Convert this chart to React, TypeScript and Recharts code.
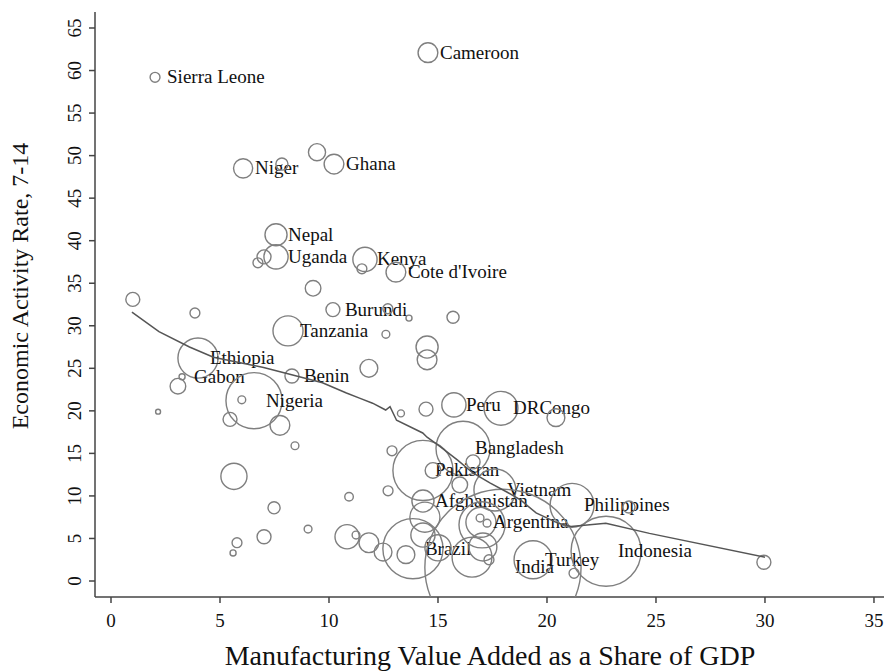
import { ScatterChart, Scatter, XAxis, YAxis, ZAxis, Label } from "recharts";

const names = [
  "Sierra Leone", "Cameroon", "Niger", "Ghana", "Nepal", "Uganda", "Kenya",
  "Cote d'Ivoire", "Burundi", "Tanzania", "Ethiopia", "Gabon", "Benin",
  "Nigeria", "Peru", "DRCongo", "Bangladesh", "Pakistan", "Vietnam",
  "Afghanistan", "Argentina", "Philippines", "Brazil", "India", "Turkey",
  "Indonesia",
];

// manufacturing value added, % of GDP (labelled countries first, then the rest)
const mva = [
  2.02, 14.54, 6.06, 10.23, 7.57, 7.57, 11.65, 13.07, 10.18, 8.12, 3.99, 3.26,
  8.3, 6.56, 15.73, 17.89, 16.15, 14.31, 17.61, 14.31, 16.97, 21.15, 13.85,
  17.98, 19.36, 22.71,
  7.84, 9.45, 7.02, 6.74, 11.51, 9.27, 1.0, 3.85, 12.7, 13.67, 15.69, 12.61,
  14.5, 14.5, 11.83, 3.07, 2.16, 6.0, 5.46, 7.75, 8.44, 13.3, 14.45, 20.41,
  12.89, 16.61, 14.77, 16.0, 12.71, 10.92, 14.4, 14.31, 10.83, 11.24, 11.83,
  12.48, 13.53, 15.0, 16.56, 17.06, 17.34, 16.93, 17.25, 17.02, 21.24, 23.76,
  29.95, 5.64, 7.48, 9.04, 7.02, 5.78, 5.6,
];

// economic activity rate, children 7-14
const activity = [
  59.2, 62.1, 48.5, 49.0, 40.7, 38.1, 37.8, 36.3, 31.9, 29.4, 26.2, 24.0,
  24.1, 21.2, 20.7, 20.3, 15.6, 13.0, 10.7, 9.4, 6.9, 8.9, 3.8, 1.6, 2.5, 3.5,
  49.0, 50.4, 38.1, 37.4, 36.7, 34.4, 33.1, 31.5, 32.0, 30.9, 31.0, 29.0,
  27.5, 26.0, 25.0, 22.9, 19.9, 21.3, 19.0, 18.3, 15.9, 19.7, 20.2, 19.2,
  15.3, 14.0, 13.0, 11.3, 10.6, 9.9, 7.5, 5.4, 5.2, 5.4, 4.5,
  3.4, 3.1, 3.9, 2.8, 4.0, 2.5, 7.4, 6.8, 6.6, 0.9, 8.7,
  2.2, 12.3, 8.6, 6.1, 5.2, 4.5, 3.3,
];

// population weight (millions)
const popWeight = [
  4, 16, 15, 16, 20, 24, 24, 16, 8, 37, 66, 1.5, 8, 129, 24, 47, 120, 148, 72,
  20, 37, 79, 148, 1000, 59, 201,
  6, 12, 8, 4, 4, 10, 8, 4, 4, 1.5, 6, 2.5, 20, 16, 13, 10, 1, 2.5, 8, 16,
  2.5, 2, 8, 13, 4, 8, 10, 10, 4, 3, 37, 24, 24, 2.5, 16, 13, 13, 28, 65, 32,
  4, 2.5, 2.5, 87, 4, 6, 8, 28, 6, 2.5, 8, 4, 1.5,
];

// smoothed fit
const fitX = [
  0.96, 2.2, 3.6, 4.7, 7.0, 8.2, 9.7, 10.8, 11.4, 12.0, 12.6, 12.8, 13.1,
  14.3, 14.5, 15.1, 15.9, 16.6, 17.4, 18.2, 18.8, 19.5, 20.5, 21.1, 22.7,
  24.7, 30.0,
];
const fitY = [
  31.6, 29.3, 27.5, 26.3, 25.1, 24.3, 23.3, 22.1, 21.5, 20.9, 20.1, 20.5,
  18.9, 17.4, 16.9, 15.8, 14.2, 12.7, 11.5, 10.4, 9.5, 8.0, 6.8, 6.4, 6.8,
  5.6, 2.8,
];

const xTicks = [0, 5, 10, 15, 20, 25, 30, 35];
const yTicks = [0, 5, 10, 15, 20, 25, 30, 35, 40, 45, 50, 55, 60, 65];

const points = mva.map((x, i) => ({
  x,
  y: activity[i],
  z: popWeight[i],
  name: names[i] || "",
}));
const fit = fitX.map((x, i) => ({ x, y: fitY[i] }));

const FONT = "'Liberation Serif', 'Times New Roman', serif";

const Bubble = (props: any) => {
  const { cx, cy, width, payload } = props;
  const r = width / 2;
  return (
    <g>
      <circle cx={cx} cy={cy} r={r} fill="none" stroke="#7f7f7f" strokeWidth={1.4} />
      {payload.name && (
        <text x={cx + 12} y={cy + 6} fontFamily={FONT} fontSize={19} fill="#111">
          {payload.name}
        </text>
      )}
    </g>
  );
};

const XTick = ({ x, y, payload }: any) => (
  <text x={x} y={y + 22} textAnchor="middle" fontFamily={FONT} fontSize={19} fill="#111">
    {payload.value}
  </text>
);

const YTick = ({ x, y, payload }: any) => (
  <text
    x={x - 6}
    y={y}
    textAnchor="middle"
    fontFamily={FONT}
    fontSize={19}
    fill="#111"
    transform={`rotate(-90, ${x - 6}, ${y})`}
  >
    {payload.value}
  </text>
);

export default function App() {
  return (
    <div style={{ position: "absolute", left: 0, top: 0, background: "#fff" }}>
      <ScatterChart width={884} height={672} margin={{ top: 12, right: 0, bottom: 0, left: 0 }}>
        <XAxis
          type="number"
          dataKey="x"
          domain={[-0.734, 35.46]}
          ticks={xTicks}
          allowDataOverflow
          height={75}
          tickSize={6}
          stroke="#444"
          strokeWidth={1.5}
          tick={<XTick />}
        >
          <Label
            value="Manufacturing Value Added as a Share of GDP"
            content={() => (
              <text x={490} y={665} textAnchor="middle" fontFamily={FONT} fontSize={28} fill="#111">
                Manufacturing Value Added as a Share of GDP
              </text>
            )}
          />
        </XAxis>
        <YAxis
          type="number"
          dataKey="y"
          domain={[-1.88, 66.88]}
          ticks={yTicks}
          allowDataOverflow
          width={95}
          tickSize={6}
          stroke="#444"
          strokeWidth={1.5}
          tick={<YTick />}
        >
          <Label
            value="Economic Activity Rate, 7-14"
            content={() => (
              <text
                x={28}
                y={286}
                textAnchor="middle"
                fontFamily={FONT}
                fontSize={24}
                fill="#111"
                transform="rotate(-90, 28, 286)"
              >
                Economic Activity Rate, 7-14
              </text>
            )}
          />
        </YAxis>
        <ZAxis type="number" dataKey="z" domain={[0, 1000]} range={[0, 19164]} />
        <Scatter data={points} shape={<Bubble />} isAnimationActive={false} />
        <Scatter
          data={fit}
          line={{ stroke: "#555", strokeWidth: 1.5 }}
          shape={() => <g />}
          isAnimationActive={false}
        />
      </ScatterChart>
    </div>
  );
}
